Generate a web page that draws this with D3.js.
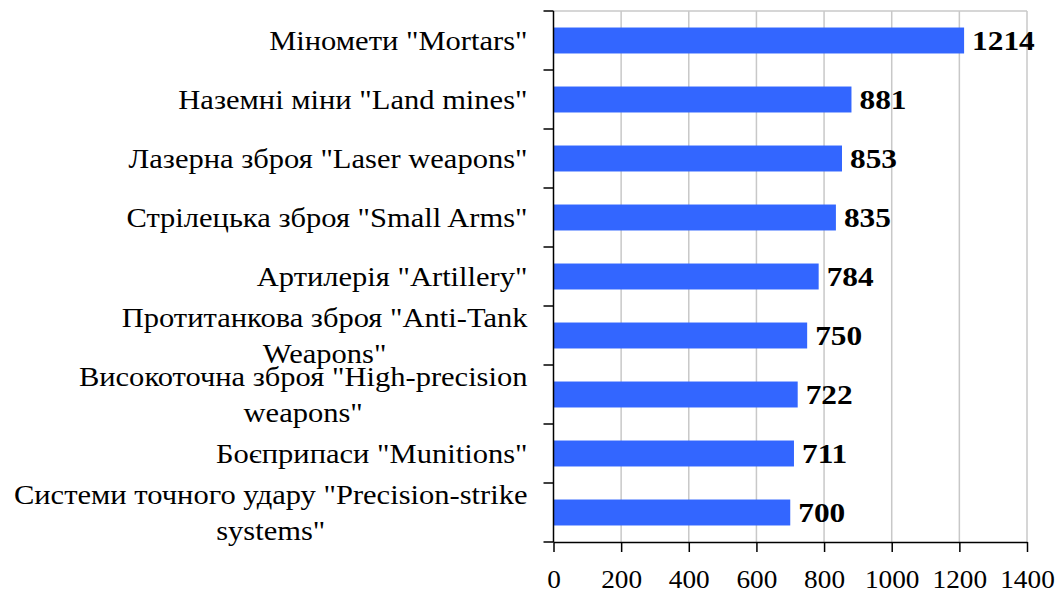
<!DOCTYPE html>
<html lang="uk">
<head>
<meta charset="UTF-8" />
<title>Weapons bar chart</title>
<script src="https://d3js.org/d3.v7.min.js"></script>
<style>
  body { margin: 0; background: #fff; }
  svg { display: block; font-family: "Liberation Serif", "Times New Roman", serif; }
  .cat { font-size: 27.5px; fill: #000; }
  .val { font-size: 28px; font-weight: bold; fill: #000; }
  .xtick text { font-size: 26px; fill: #000; }
</style>
</head>
<body>
<div id="chart"></div>
<script>
// categories, top to bottom ("\n" marks the line break used in the picture)
const categories = [
  'Міномети "Mortars"',
  'Наземні міни "Land mines"',
  'Лазерна зброя "Laser weapons"',
  'Стрілецька зброя "Small Arms"',
  'Артилерія "Artillery"',
  'Протитанкова зброя "Anti-Tank\nWeapons"',
  'Високоточна зброя "High-precision\nweapons"',
  'Боєприпаси "Munitions"',
  'Системи точного удару "Precision-strike\nsystems"'
];
const values = [1214, 881, 853, 835, 784, 750, 722, 711, 700];
const xTicks = [0, 200, 400, 600, 800, 1000, 1200, 1400];

const width = 1061, height = 596;
const margin = { top: 11, right: 34, bottom: 54, left: 553.5 };
const stretchCat = 1.11, stretchVal = 1.12;

const svg = d3.select("#chart").append("svg")
  .attr("width", width)
  .attr("height", height);

const x = d3.scaleLinear().domain([0, 1400]).range([margin.left, width - margin.right]);
const y = d3.scaleBand().domain(categories).range([margin.top, height - margin.bottom]).paddingInner(0.56).paddingOuter(0.28);
const yb = d3.scaleBand().domain(categories).range([margin.top, height - margin.bottom]);

// gridlines
svg.append("g")
  .selectAll("line")
  .data(xTicks.slice(1))
  .enter().append("line")
  .attr("x1", d => x(d)).attr("x2", d => x(d))
  .attr("y1", margin.top).attr("y2", height - margin.bottom)
  .attr("stroke", "#c8c8c8").attr("stroke-width", 1.5);

// top border
svg.append("line")
  .attr("x1", margin.left).attr("x2", x(1400))
  .attr("y1", margin.top).attr("y2", margin.top)
  .attr("stroke", "#c8c8c8").attr("stroke-width", 1.5);

// bars
svg.append("g")
  .selectAll("rect")
  .data(values)
  .enter().append("rect")
  .attr("x", x(0))
  .attr("y", (d, i) => y(categories[i]))
  .attr("width", d => x(d) - x(0))
  .attr("height", y.bandwidth())
  .attr("fill", "#3366ff");

// value labels (slightly widened like the original rendering)
svg.append("g")
  .selectAll("text")
  .data(values)
  .enter().append("text")
  .attr("class", "val")
  .attr("transform", (d, i) => `translate(${x(d) + 8},${y(categories[i]) + y.bandwidth() / 2}) scale(${stretchVal},1)`)
  .attr("dy", "0.35em")
  .text(d => d);

// x axis
const xAxis = svg.append("g")
  .attr("class", "xtick")
  .attr("transform", `translate(0,${height - margin.bottom})`)
  .call(d3.axisBottom(x).tickValues(xTicks).tickSize(10).tickSizeOuter(0).tickPadding(18).tickFormat(d3.format("d")));
xAxis.select(".domain").attr("stroke", "#000").attr("stroke-width", 1.5);
xAxis.selectAll(".tick line").attr("stroke", "#000").attr("stroke-width", 1.5);
xAxis.selectAll("text")
  .style("font-family", "Liberation Serif")
  .attr("transform", "scale(1.05,1)");

// y axis line and ticks at band boundaries
svg.append("line")
  .attr("x1", margin.left).attr("x2", margin.left)
  .attr("y1", margin.top).attr("y2", height - margin.bottom)
  .attr("stroke", "#000").attr("stroke-width", 1.5);
const bounds = categories.map(c => yb(c)).concat([height - margin.bottom]);
svg.append("g")
  .selectAll("line")
  .data(bounds)
  .enter().append("line")
  .attr("x1", margin.left - 10).attr("x2", margin.left)
  .attr("y1", d => d).attr("y2", d => d)
  .attr("stroke", "#000").attr("stroke-width", 1.5);

// category labels: block right aligned, lines centred within block
const labelRight = margin.left - 26;
const lineH = 36;
categories.forEach(c => {
  const lines = c.split("\n");
  const cy = yb(c) + yb.bandwidth() / 2;
  const t = svg.append("text").attr("class", "cat")
    .attr("transform", `translate(${labelRight},0) scale(${stretchCat},1)`);
  const spans = lines.map((ln, i) => t.append("tspan")
    .attr("y", cy + (i - (lines.length - 1) / 2) * lineH)
    .attr("dy", "0.35em")
    .text(ln));
  const w = d3.max(spans, s => s.node().getComputedTextLength());
  spans.forEach(s => {
    s.attr("x", -w / 2).attr("text-anchor", "middle");
  });
});
</script>
</body>
</html>
